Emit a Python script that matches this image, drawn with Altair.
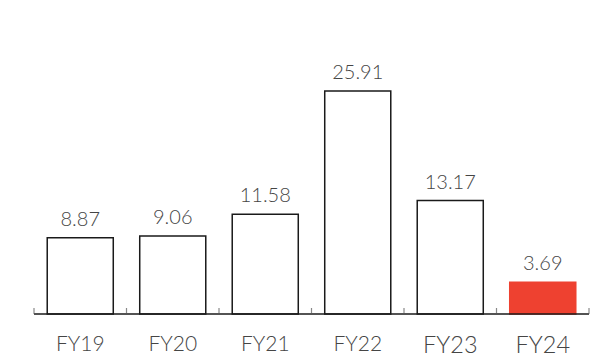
import altair as alt
import pandas as pd

years = ["FY19", "FY20", "FY21", "FY22", "FY23", "FY24"]
values = [8.87, 9.06, 11.58, 25.91, 13.17, 3.69]
fills = ["#ffffff", "#ffffff", "#ffffff", "#ffffff", "#ffffff", "#ee4130"]
strokes = ["#1a1a1a", "#1a1a1a", "#1a1a1a", "#1a1a1a", "#1a1a1a", "#ee4130"]

df = pd.DataFrame({"year": years, "value": values, "fill": fills, "stroke": strokes})
# boundaries between the year slots, where the small axis ticks sit
bounds = pd.DataFrame({"pos": list(range(len(years) + 1))})

FONT = "Lato"
TEXT = "#454545"

x = alt.X(
    "year:N",
    sort=years,
    title=None,
    scale=alt.Scale(paddingInner=0.286, paddingOuter=0.143),
    axis=alt.Axis(
        domain=False,
        ticks=False,
        labelPadding=19,
        labelBaseline="top",
        labelFontSize=alt.expr("datum.value == 'FY23' || datum.value == 'FY24' ? 23.5 : 21"),
        labelFont=FONT,
        labelFontWeight=300,
        labelColor=TEXT,
        labelAngle=0,
    ),
)
y = alt.Y("value:Q", scale=alt.Scale(domain=[0, 33.68], nice=False), axis=None)

base = alt.Chart(df)

bars = base.mark_bar(strokeWidth=1.5).encode(
    x=x,
    y=y,
    fill=alt.Fill("fill:N", scale=None),
    stroke=alt.Stroke("stroke:N", scale=None),
)

labels = base.mark_text(
    baseline="alphabetic", dy=-12, fontSize=20, font=FONT, fontWeight=300, color=TEXT
).encode(x=alt.X("year:N", sort=years), y="value:Q", text=alt.Text("value:Q", format=".2f"))

baseline = alt.Chart(pd.DataFrame({"v": [0]})).mark_rule(
    color="#1a1a1a", strokeWidth=1.5
).encode(y=alt.Y("v:Q"))

ticks = alt.Chart(bounds).mark_tick(
    orient="vertical", size=6, thickness=1.2, color="#555555", yOffset=-3
).encode(
    x=alt.X("pos:Q", scale=alt.Scale(domain=[0, len(years)], nice=False), axis=None),
    y=alt.datum(0),
)

main = alt.layer(bars, labels, baseline)

chart = (
    alt.layer(main, ticks)
    .resolve_scale(x="independent")
    .properties(
        width=555,
        height=290,
        autosize=alt.AutoSizeParams(type="none"),
        padding={"left": 34, "top": 24, "right": 13, "bottom": 46},
    )
    .configure_view(stroke=None)
)

chart.save("out.html", embed_options={"renderer": "svg", "actions": False})
